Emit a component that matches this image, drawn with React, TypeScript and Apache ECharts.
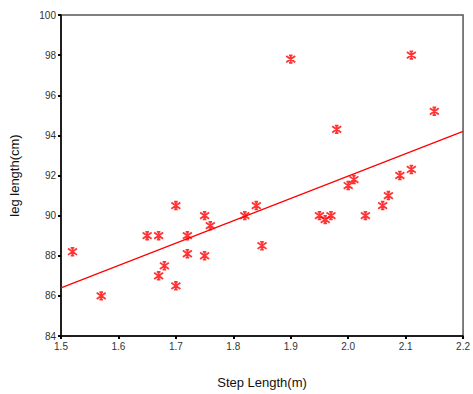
import React, { useEffect, useRef } from "react";
import * as echarts from "echarts";

const stepLength = [1.52, 1.57, 1.65, 1.67, 1.67, 1.68, 1.70, 1.70, 1.72, 1.72, 1.75, 1.75, 1.76, 1.82, 1.84, 1.85, 1.90, 1.95, 1.96, 1.97, 1.98, 2.00, 2.01, 2.03, 2.06, 2.07, 2.09, 2.11, 2.11, 2.15];
const legLength = [88.2, 86.0, 89.0, 89.0, 87.0, 87.5, 90.5, 86.5, 89.0, 88.1, 90.0, 88.0, 89.5, 90.0, 90.5, 88.5, 97.8, 90.0, 89.8, 90.0, 94.3, 91.5, 91.8, 90.0, 90.5, 91.0, 92.0, 98.0, 92.3, 95.2];
const fitX = [1.5, 2.2];
const fitY = [86.4, 94.2];

const ASTERISK = "path://M0 -1 L0 1 M-0.75 -0.7 L0.75 0.7 M-0.75 0.7 L0.75 -0.7 M-0.3 -0.85 L0.3 -0.85 M-0.3 0.85 L0.3 0.85";

export default function App() {
  const ref = useRef<HTMLDivElement>(null);
  useEffect(() => {
    if (!ref.current) return;
    const chart = echarts.init(ref.current, null, { renderer: "svg" });
    const font = "Liberation Sans";
    chart.setOption({
      animation: false,
      backgroundColor: "#ffffff",
      grid: { left: 60, top: 15, right: 6, bottom: 57, show: true, borderColor: "#555", borderWidth: 1.5, backgroundColor: "transparent" },
      xAxis: {
        type: "value",
        min: 1.5,
        max: 2.2,
        interval: 0.1,
        name: "Step Length(m)",
        nameLocation: "middle",
        nameGap: 40,
        nameTextStyle: { fontFamily: font, fontSize: 13, color: "#111" },
        axisLine: { show: true, onZero: false, lineStyle: { color: "#000", width: 1.5 } },
        axisTick: { show: true, length: 3, lineStyle: { color: "#000", width: 2 } },
        axisLabel: { fontFamily: font, fontSize: 10, color: "#333", margin: 5, formatter: (v: number) => v.toFixed(1) },
        splitLine: { show: false },
      },
      yAxis: {
        type: "value",
        min: 84,
        max: 100,
        interval: 2,
        name: "leg length(cm)",
        nameLocation: "middle",
        nameGap: 40,
        nameRotate: 90,
        nameTextStyle: { fontFamily: font, fontSize: 13, color: "#111" },
        axisLine: { show: true, onZero: false, lineStyle: { color: "#000", width: 1.5 } },
        axisTick: { show: true, length: 3, lineStyle: { color: "#000", width: 2 } },
        axisLabel: { fontFamily: font, fontSize: 10, color: "#333", margin: 5 },
        splitLine: { show: false },
      },
      series: [
        {
          type: "line",
          data: fitX.map((x, i) => [x, fitY[i]]),
          showSymbol: false,
          symbol: "none",
          lineStyle: { color: "#ff0000", width: 1.2 },
          silent: true,
          z: 2,
        },
        {
          type: "scatter",
          data: stepLength.map((x, i) => [x, legLength[i]]),
          symbol: ASTERISK,
          symbolSize: 9,
          itemStyle: { color: "#ff0000", borderColor: "#ff0000", borderWidth: 1.8 },
          z: 3,
        },
      ],
    });
    return () => chart.dispose();
  }, []);
  return <div ref={ref} style={{ width: 473, height: 394, position: "absolute", left: 0, top: 0 }} />;
}
